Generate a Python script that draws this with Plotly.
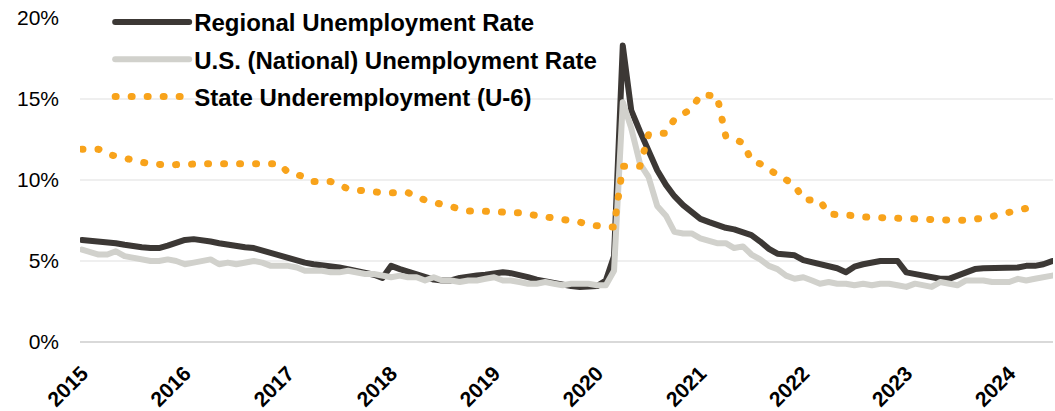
import pandas as pd
import plotly.graph_objects as go

# ---------------- data ----------------
months = pd.date_range("2015-01-01", "2024-06-01", freq="MS")

regional = [
    6.3, 6.25, 6.25, 6.2, 6.1, 6.0, 5.9, 5.85, 5.8, 5.8, 5.95, 6.15,
    6.3, 6.35, 6.3, 6.2, 6.1, 6.0, 5.9, 5.85, 5.8, 5.65, 5.45, 5.3,
    5.2, 5.05, 4.9, 4.8, 4.75, 4.65, 4.6, 4.5, 4.4, 4.3, 4.15, 3.95,
    4.7, 4.5, 4.35, 4.2, 4.0, 3.85, 3.8, 3.8, 3.95, 4.05, 4.1, 4.15,
    4.25, 4.3, 4.25, 4.15, 4.0, 3.85, 3.75, 3.6, 3.5, 3.45, 3.4, 3.4,
    3.45, 3.8, 5.3, 18.3, 14.3, 13.0, 11.7, 10.6, 9.7, 9.0, 8.45, 8.0,
    7.6, 7.4, 7.2, 7.05, 6.95, 6.8, 6.6, 6.2, 5.75, 5.45, 5.4, 5.35,
    5.05, 4.9, 4.75, 4.65, 4.55, 4.3, 4.65, 4.8, 4.9, 5.0, 5.0, 5.0,
    4.3, 4.2, 4.05, 3.95, 3.9, 3.9, 4.1, 4.3, 4.5, 4.55, 4.55, 4.55,
    4.55, 4.6, 4.7, 4.7, 4.8, 5.0,
]

national = [
    5.7, 5.5, 5.4, 5.4, 5.6, 5.3, 5.2, 5.1, 5.0, 5.0, 5.1, 5.0,
    4.8, 4.9, 5.0, 5.1, 4.8, 4.9, 4.8, 4.9, 5.0, 4.9, 4.7, 4.7,
    4.7, 4.6, 4.4, 4.4, 4.4, 4.3, 4.3, 4.4, 4.3, 4.2, 4.2, 4.1,
    4.0, 4.1, 4.0, 4.0, 3.8, 4.0, 3.8, 3.8, 3.7, 3.8, 3.8, 3.9,
    4.0, 3.8, 3.8, 3.7, 3.6, 3.6, 3.7, 3.6, 3.5, 3.6, 3.6, 3.6,
    3.5, 3.5, 4.4, 14.8, 13.2, 11.0, 10.2, 8.4, 7.8, 6.8, 6.7, 6.7,
    6.4, 6.2, 6.1, 6.1, 5.8, 5.9, 5.4, 5.1, 4.7, 4.5, 4.1, 3.9,
    4.0, 3.8, 3.6, 3.7, 3.6, 3.6, 3.5, 3.6, 3.5, 3.6, 3.6, 3.5,
    3.4, 3.6, 3.5, 3.4, 3.7, 3.6, 3.5, 3.8, 3.8, 3.8, 3.7, 3.7,
    3.7, 3.9, 3.8, 3.9, 4.0, 4.1,
]

underemployment = [
    11.9, 11.9, 11.9, 11.6, 11.45, 11.35, 11.25, 11.1, 11.0, 10.93, 10.93, 10.95,
    11.0, 11.0, 11.0, 11.0, 11.0, 11.0, 11.0, 11.0, 11.0, 11.0, 11.0, 11.0,
    10.45, 10.35, 10.2, 9.9, 9.9, 9.9, 9.7, 9.45, 9.38, 9.3, 9.25, 9.22,
    9.22, 9.22, 9.22, 9.0, 8.75, 8.62, 8.5, 8.32, 8.2, 8.09, 8.09, 8.09,
    8.09, 8.09, 8.0, 7.97, 7.9, 7.85, 7.75, 7.7, 7.63, 7.5, 7.4, 7.25,
    7.15, 7.1, 7.1, 10.85, 10.85, 10.85, 12.8, 12.85, 12.9, 13.75, 14.1, 14.4,
    15.25, 15.25, 15.2, 12.7, 12.5, 12.3, 11.2, 11.0, 10.65, 10.3, 9.95, 9.7,
    8.8, 8.75, 8.72, 7.9, 7.9, 7.9, 7.8, 7.72, 7.72, 7.72, 7.72, 7.7,
    7.62, 7.6, 7.57, 7.55, 7.52, 7.51, 7.51, 7.52, 7.55, 7.65, 7.75, 7.88,
    8.0, 8.08, 8.25, 8.5,
]

series_names = [
    "Regional Unemployment Rate",
    "U.S. (National) Unemployment Rate",
    "State Underemployment (U-6)",
]
y_ticks = [0, 5, 10, 15, 20]
y_tick_labels = ["0%", "5%", "10%", "15%", "20%"]

# ---------------- styles ----------------
DARK = "#3c3835"
GREY = "#d1d1cc"
ORANGE = "#f8a31b"
FONT = "Liberation Sans, Arial, sans-serif"

fig = go.Figure()
fig.add_trace(go.Scatter(
    x=months, y=regional, name=series_names[0], mode="lines",
    line=dict(color=DARK, width=6), legendgroup="a",
))
fig.add_trace(go.Scatter(
    x=months, y=national, name=series_names[1], mode="lines",
    line=dict(color=GREY, width=6), legendgroup="b",
))
fig.add_trace(go.Scatter(
    x=months[:len(underemployment)], y=underemployment, name=series_names[2],
    mode="lines", line=dict(color=ORANGE, width=7, dash="1px,15px"),
    legendgroup="c",
))

fig.update_layout(
    width=1055, height=411,
    margin=dict(l=80, r=2, t=18, b=69, autoexpand=False),
    paper_bgcolor="white", plot_bgcolor="white",
    font=dict(family=FONT, color="black"),
    showlegend=True,
    legend=dict(
        x=0.031, xanchor="left", y=1.0, yref="container", yanchor="top",
        bgcolor="rgba(0,0,0,0)", borderwidth=0,
        font=dict(size=24, family=FONT, color="black", weight="bold"),
        itemwidth=74, tracegroupgap=3, traceorder="grouped",
    ),
    xaxis=dict(
        type="date",
        range=["2014-12-25", "2024-06-04"],
        tick0="2015-01-01", dtick="M12", tickformat="%Y",
        tickangle=-45, showgrid=False, zeroline=False, showline=False,
        ticks="", ticklabelstandoff=14,
        tickfont=dict(size=21, family=FONT, color="black", weight="bold"),
    ),
    yaxis=dict(
        range=[0, 20], tickvals=y_ticks, ticktext=y_tick_labels,
        showgrid=True, gridcolor="#efefef", gridwidth=2,
        zeroline=True, zerolinecolor="#d9d9d9", zerolinewidth=2,
        showline=False, ticks="", ticklabelstandoff=20,
        tickfont=dict(size=21, family=FONT, color="black"),
    ),
)

post_js = """
var gd = document.getElementById('{plot_id}');
function roundCaps(){
  gd.querySelectorAll('path.js-line').forEach(function(p){
    p.style.strokeLinecap = 'round';
    p.style.strokeLinejoin = 'round';
  });
}
roundCaps();
gd.on('plotly_afterplot', roundCaps);
"""

fig.write_html("out.html", post_script=post_js)
